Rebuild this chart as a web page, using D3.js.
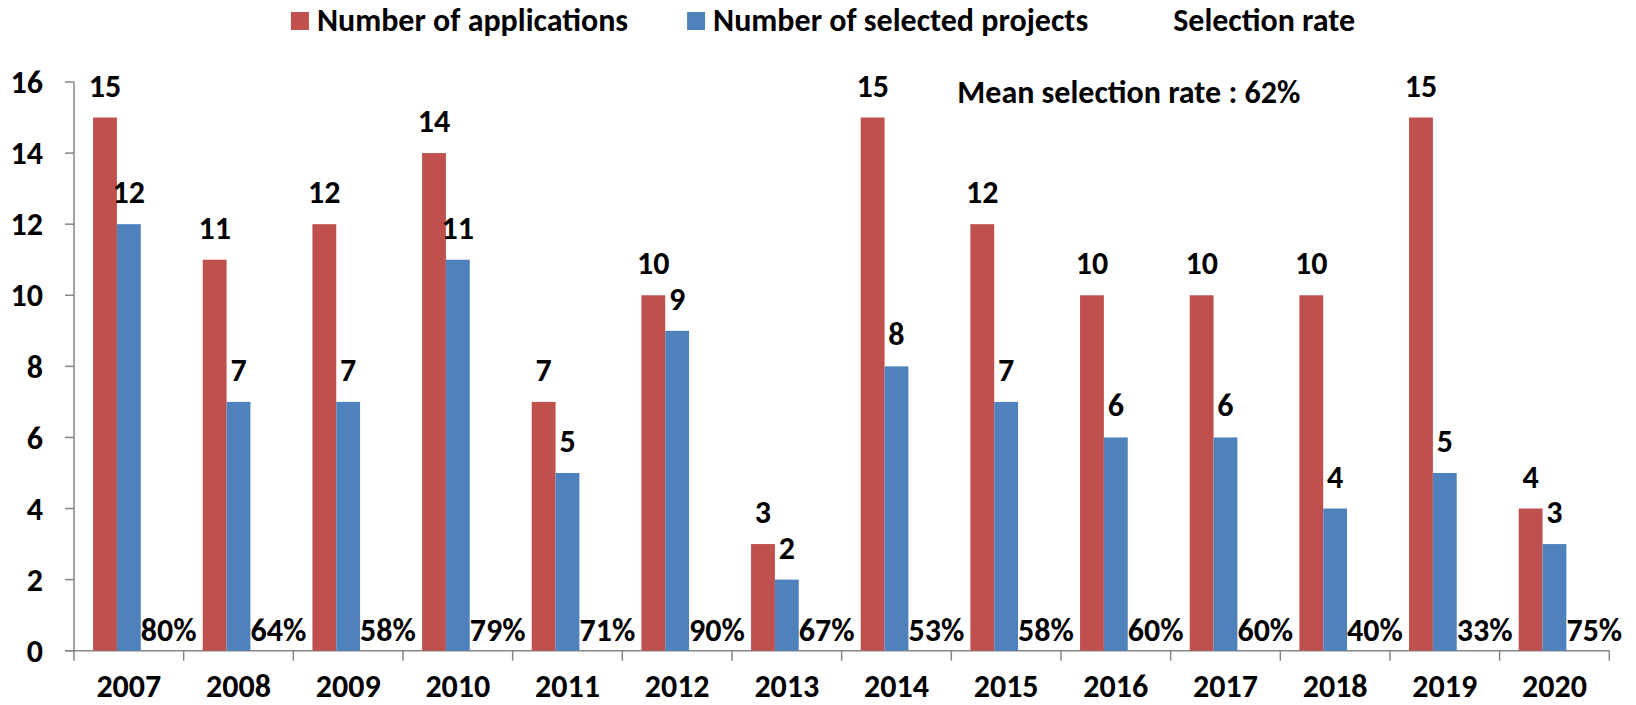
<!DOCTYPE html>
<html>
<head>
<meta charset="utf-8">
<script src="https://cdn.jsdelivr.net/npm/d3@7/dist/d3.min.js"></script>
<style>
  body { margin: 0; background: #fff; }
  svg text { font-family: Calibri, Carlito, Lato, sans-serif; font-weight: bold; fill: #000; }
</style>
</head>
<body>
<div id="vis-container"></div>
<script>
// data
years = ["2007","2008","2009","2010","2011","2012","2013","2014","2015","2016","2017","2018","2019","2020"]
applications = [15,11,12,14,7,10,3,15,12,10,10,10,15,4]
selected = [12,7,7,11,5,9,2,8,7,6,6,4,5,3]
rates = [80,64,58,79,71,90,67,53,58,60,60,40,33,75]
yTicks = [0,2,4,6,8,10,12,14,16]
seriesNames = ["Number of applications","Number of selected projects","Selection rate"]
meanRate = 62

chart = {
  "width": 1636,
  "height": 705,
  "margin": {"top": 82, "bottom": 54.3, "left": 74, "right": 26.7},
  "colors": ["#C0504D","#4F81BD","none"],
  "axisColor": "#868686",
  "fontSize": 32
}

svg = d3.select("#vis-container").append("svg")
  .attr("width", chart.width).attr("height", chart.height)

let x = d3.scaleBand().domain(years)
  .range([chart.margin.left, chart.width - chart.margin.right])
  .paddingInner(0).paddingOuter(0)
let xs = d3.scaleBand().domain([0,1,2]).range([0, x.bandwidth()]).paddingInner(0).paddingOuter(0.8)
let y = d3.scaleLinear().domain([0,16]).range([chart.height - chart.margin.bottom, chart.margin.top])

// axes
let g = svg.append("g")
g.append("line")
  .attr("x1", x.range()[0]).attr("x2", x.range()[0])
  .attr("y1", y(16)).attr("y2", y(0))
  .attr("stroke", chart.axisColor).attr("stroke-width", 1.5)
g.selectAll(".ytick").data(yTicks).enter().append("line")
  .attr("class","ytick")
  .attr("x1", x.range()[0] - 9).attr("x2", x.range()[0])
  .attr("y1", d => y(d)).attr("y2", d => y(d))
  .attr("stroke", chart.axisColor).attr("stroke-width", 1.5)
g.selectAll(".ylabel").data(yTicks).enter().append("text")
  .attr("class","ylabel")
  .attr("x", x.range()[0] - 31)
  .attr("y", d => y(d))
  .attr("dy", "0.35em")
  .attr("text-anchor","end")
  .style("font-size", chart.fontSize + "px")
  .text(d => d)

g.append("line")
  .attr("x1", x.range()[0] - 9).attr("x2", x.range()[1])
  .attr("y1", y(0)).attr("y2", y(0))
  .attr("stroke", chart.axisColor).attr("stroke-width", 1.5)
let boundaries = years.map(d => x(d)).concat([x.range()[1]])
g.selectAll(".xtick").data(boundaries).enter().append("line")
  .attr("class","xtick")
  .attr("x1", d => d).attr("x2", d => d)
  .attr("y1", y(0)).attr("y2", y(0) + 10)
  .attr("stroke", chart.axisColor).attr("stroke-width", 1.5)
g.selectAll(".xlabel").data(years).enter().append("text")
  .attr("class","xlabel")
  .attr("x", d => x(d) + x.bandwidth() / 2)
  .attr("y", y(0) + 46)
  .attr("text-anchor","middle")
  .style("font-size", chart.fontSize + "px")
  .text(d => d)

// bars
let series = [applications, selected]
series.forEach(function(values, s){
  let bars = svg.append("g").attr("class","series-" + s)
  bars.selectAll("rect").data(values).enter().append("rect")
    .attr("x", (d,i) => x(years[i]) + xs(s))
    .attr("width", xs.bandwidth())
    .attr("y", d => y(d))
    .attr("height", d => y(0) - y(d))
    .attr("fill", chart.colors[s])
  bars.selectAll("text").data(values).enter().append("text")
    .attr("x", (d,i) => x(years[i]) + xs(s) + xs.bandwidth() / 2)
    .attr("y", d => y(d) - 21)
    .attr("text-anchor","middle")
    .style("font-size", chart.fontSize + "px")
    .text(d => d)
})

// selection rate labels sit just above the baseline
svg.append("g").selectAll("text").data(rates).enter().append("text")
  .attr("x", (d,i) => x(years[i]) + xs(2) + xs.bandwidth() / 2 + 16)
  .attr("y", y(0) - 10)
  .attr("text-anchor","middle")
  .style("font-size", chart.fontSize + "px")
  .text(d => d + "%")

svg.append("text")
  .attr("x", x("2015") + 6)
  .attr("y", y(16) + 21)
  .style("font-size", chart.fontSize + "px")
  .text("Mean selection rate : " + meanRate + "%")

// legend, centred over the chart
let legend = svg.append("g").attr("class","legend")
let cursor = 0
seriesNames.forEach(function(name, s){
  let item = legend.append("g").attr("transform","translate(" + cursor + ",0)")
  item.append("rect").attr("x",0).attr("y",12).attr("width",18).attr("height",18)
    .attr("fill", chart.colors[s])
  let t = item.append("text").attr("x", 26).attr("y", 31)
    .style("font-size", chart.fontSize + "px").text(name)
  cursor += 26 + t.node().getComputedTextLength() + 59
})
let legendWidth = cursor - 59
legend.attr("transform","translate(" + (823 - legendWidth / 2) + ",0)")
</script>
</body>
</html>
